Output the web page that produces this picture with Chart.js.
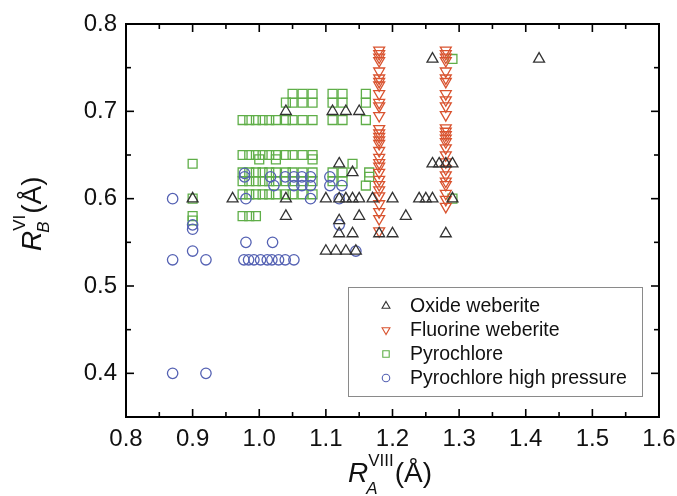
<!DOCTYPE html>
<html>
<head>
<meta charset="utf-8">
<script src="https://cdn.jsdelivr.net/npm/chart.js@4/dist/chart.umd.min.js"></script>
<style>
  body { margin: 0; background: #fff; }
  canvas { display: block; }
</style>
</head>
<body>
<canvas id="chart" width="677" height="496"></canvas>
<script>
// tick labels
const xTicks = [0.8, 0.9, 1.0, 1.1, 1.2, 1.3, 1.4, 1.5, 1.6];
const yTicks = [0.4, 0.5, 0.6, 0.7, 0.8];

const seriesNames = ["Oxide weberite", "Fluorine weberite", "Pyrochlore", "Pyrochlore high pressure"];

// [R_A, R_B] pairs
const oxideWeberite = [
  [1.42, 0.76], [1.26, 0.76],
  [1.04, 0.70], [1.11, 0.70], [1.13, 0.70], [1.15, 0.70],
  [1.12, 0.64], [1.14, 0.63], [1.26, 0.64], [1.27, 0.64], [1.28, 0.64], [1.29, 0.64],
  [0.90, 0.60], [0.96, 0.60], [1.04, 0.60], [1.10, 0.60], [1.12, 0.60], [1.13, 0.60],
  [1.14, 0.60], [1.15, 0.60], [1.17, 0.60], [1.20, 0.60], [1.24, 0.60], [1.25, 0.60],
  [1.26, 0.60], [1.29, 0.60],
  [1.04, 0.58], [1.12, 0.575], [1.15, 0.58], [1.22, 0.58],
  [1.12, 0.56], [1.14, 0.56], [1.18, 0.56], [1.20, 0.56], [1.28, 0.56],
  [1.10, 0.54], [1.115, 0.54], [1.13, 0.54], [1.145, 0.54]
];

const fluorineWeberite = [
  [1.18, 0.77], [1.18, 0.766], [1.18, 0.762], [1.18, 0.758], [1.18, 0.746], [1.18, 0.738],
  [1.18, 0.734], [1.18, 0.73], [1.18, 0.72], [1.18, 0.71], [1.18, 0.706], [1.18, 0.695],
  [1.18, 0.68], [1.18, 0.675], [1.18, 0.671], [1.18, 0.667], [1.18, 0.663], [1.18, 0.655],
  [1.18, 0.647], [1.18, 0.641], [1.18, 0.637], [1.18, 0.63], [1.18, 0.622], [1.18, 0.616],
  [1.18, 0.61], [1.18, 0.603], [1.18, 0.594], [1.18, 0.585], [1.18, 0.577], [1.18, 0.563],
  [1.28, 0.77], [1.28, 0.766], [1.28, 0.762], [1.28, 0.758], [1.28, 0.746], [1.28, 0.738],
  [1.28, 0.734], [1.28, 0.72], [1.28, 0.713], [1.28, 0.706], [1.28, 0.696], [1.28, 0.681],
  [1.28, 0.677], [1.28, 0.673], [1.28, 0.669], [1.28, 0.665], [1.28, 0.658], [1.28, 0.65],
  [1.28, 0.642], [1.28, 0.634], [1.28, 0.627], [1.28, 0.62], [1.28, 0.616], [1.28, 0.606],
  [1.28, 0.599], [1.28, 0.591]
];

const pyrochlore = [
  [1.29, 0.76],
  [1.05, 0.72], [1.065, 0.72], [1.08, 0.72], [1.11, 0.72], [1.125, 0.72], [1.16, 0.72],
  [1.04, 0.71], [1.05, 0.71], [1.065, 0.71], [1.08, 0.71], [1.11, 0.71], [1.125, 0.71], [1.16, 0.71],
  [0.975, 0.69], [0.985, 0.69], [0.995, 0.69], [1.005, 0.69], [1.015, 0.69], [1.025, 0.69],
  [1.04, 0.69], [1.05, 0.69], [1.065, 0.69], [1.08, 0.69], [1.11, 0.69], [1.125, 0.69], [1.16, 0.69],
  [0.975, 0.65], [0.985, 0.65], [0.995, 0.65], [1.005, 0.65], [1.015, 0.65], [1.025, 0.65],
  [1.04, 0.65], [1.05, 0.65], [1.065, 0.65], [1.08, 0.65],
  [1.00, 0.645], [1.025, 0.645], [1.08, 0.645],
  [0.90, 0.64], [1.14, 0.64],
  [0.975, 0.63], [0.985, 0.63], [0.995, 0.63], [1.005, 0.63], [1.015, 0.63], [1.025, 0.63],
  [1.04, 0.63], [1.05, 0.63], [1.065, 0.63], [1.08, 0.63], [1.11, 0.63], [1.125, 0.63], [1.165, 0.63],
  [0.975, 0.62], [0.985, 0.62], [0.995, 0.62], [1.005, 0.62], [1.015, 0.62], [1.025, 0.62],
  [1.04, 0.62], [1.05, 0.62], [1.065, 0.62], [1.08, 0.62], [1.11, 0.62], [1.125, 0.62], [1.165, 0.625],
  [1.16, 0.615],
  [0.975, 0.605], [0.985, 0.605], [0.995, 0.605], [1.005, 0.605], [1.015, 0.605], [1.025, 0.605],
  [1.04, 0.605], [1.05, 0.605], [1.065, 0.605], [1.08, 0.605],
  [0.90, 0.60], [1.29, 0.60],
  [0.90, 0.58], [0.975, 0.58], [0.985, 0.58], [0.995, 0.58], [0.90, 0.575]
];

const pyrochloreHP = [
  [0.87, 0.60], [0.87, 0.53], [0.87, 0.40], [0.92, 0.40], [0.92, 0.53],
  [0.90, 0.54], [0.90, 0.565], [0.90, 0.57],
  [0.98, 0.60], [0.98, 0.55], [1.02, 0.55],
  [0.977, 0.53], [0.984, 0.53], [0.992, 0.53], [1.002, 0.53], [1.012, 0.53],
  [1.019, 0.53], [1.029, 0.53], [1.039, 0.53], [1.052, 0.53],
  [0.978, 0.629], [0.978, 0.625], [1.017, 0.625], [1.022, 0.615], [1.039, 0.625],
  [1.052, 0.625], [1.064, 0.625], [1.077, 0.625], [1.052, 0.615], [1.064, 0.615],
  [1.077, 0.615], [1.077, 0.60], [1.106, 0.625], [1.106, 0.615], [1.124, 0.615],
  [1.12, 0.60], [1.12, 0.57], [1.145, 0.54]
];

const FONT = "'Liberation Sans', Arial, sans-serif";
const toPts = arr => arr.map(p => ({ x: p[0], y: p[1] }));

function series(label, pts, color, style, radius, rotation, order) {
  return {
    label: label,
    data: toPts(pts),
    borderColor: color,
    backgroundColor: "rgba(0,0,0,0)",
    pointStyle: style,
    pointRadius: radius,
    pointRotation: rotation,
    pointBorderWidth: 1.3,
    order: order
  };
}

// frame, inward ticks, axis titles and the in-plot legend
const decorations = {
  id: "decorations",
  afterDraw(chart) {
    const { ctx, chartArea: a, scales } = chart;
    const xs = scales.x, ys = scales.y;
    ctx.save();
    ctx.strokeStyle = "#000";
    ctx.lineWidth = 2;
    ctx.strokeRect(a.left, a.top, a.right - a.left, a.bottom - a.top);

    ctx.lineWidth = 1.6;
    const tick = (x1, y1, x2, y2) => { ctx.beginPath(); ctx.moveTo(x1, y1); ctx.lineTo(x2, y2); ctx.stroke(); };
    xTicks.forEach((v, i) => {
      const px = xs.getPixelForValue(v);
      tick(px, a.bottom, px, a.bottom - 8);
      tick(px, a.top, px, a.top + 8);
      if (i < xTicks.length - 1) {
        const m = xs.getPixelForValue((v + xTicks[i + 1]) / 2);
        tick(m, a.bottom, m, a.bottom - 5);
        tick(m, a.top, m, a.top + 5);
      }
    });
    yTicks.forEach((v, i) => {
      const py = ys.getPixelForValue(v);
      tick(a.left, py, a.left + 8, py);
      tick(a.right, py, a.right - 8, py);
      if (i < yTicks.length - 1) {
        const m = ys.getPixelForValue((v + yTicks[i + 1]) / 2);
        tick(a.left, m, a.left + 5, m);
        tick(a.right, m, a.right - 5, m);
      }
    });

    // axis titles: R with stacked sub/superscript, then (Å)
    const drawTitle = (sub, sup, subDrop) => {
      ctx.fillStyle = "#111";
      ctx.textBaseline = "alphabetic";
      ctx.textAlign = "left";
      ctx.font = "italic 28px " + FONT;
      ctx.fillText("R", 0, 0);
      let w = ctx.measureText("R").width;
      ctx.font = "17px " + FONT;
      const supW = ctx.measureText(sup).width;
      ctx.fillText(sup, w, -16);
      ctx.font = "italic 17px " + FONT;
      const subW = ctx.measureText(sub).width;
      ctx.fillText(sub, w - 2, subDrop);
      w += Math.max(supW, subW) + 1;
      ctx.font = "28px " + FONT;
      ctx.fillText("(Å)", w, 0);
    };
    ctx.save();
    ctx.translate(348, 482);
    drawTitle("A", "VIII", 12);
    ctx.restore();
    ctx.save();
    ctx.translate(41, 251);
    ctx.rotate(-Math.PI / 2);
    drawTitle("B", "VI", 8);
    ctx.restore();

    // legend box inside plot
    const lx = a.right - 311, ly = a.bottom - 130, lw = 294, lh = 109;
    ctx.fillStyle = "#fff";
    ctx.fillRect(lx, ly, lw, lh);
    ctx.strokeStyle = "#8a8a8a";
    ctx.lineWidth = 1;
    ctx.strokeRect(lx + 0.5, ly + 0.5, lw, lh);
    ctx.font = "19.5px " + FONT;
    ctx.textBaseline = "middle";
    chart.data.datasets.forEach((ds, i) => {
      const cy = ly + 19 + i * 24;
      ctx.strokeStyle = ds.borderColor;
      ctx.fillStyle = "rgba(0,0,0,0)";
      ctx.lineWidth = 1.1;
      Chart.helpers.drawPoint(ctx, {
        pointStyle: ds.pointStyle, radius: ds.pointRadius * 0.72,
        rotation: ds.pointRotation, borderWidth: 1.1
      }, lx + 38, cy);
      ctx.fillStyle = "#111";
      ctx.fillText(ds.label, lx + 62, cy + 1);
    });
    ctx.restore();
  }
};

new Chart(document.getElementById("chart"), {
  type: "scatter",
  data: {
    datasets: [
      series(seriesNames[0], oxideWeberite, "#333333", "triangle", 6.3, 0, 0),
      series(seriesNames[1], fluorineWeberite, "#d9532f", "triangle", 6.3, 180, 1),
      series(seriesNames[2], pyrochlore, "#5fae48", "rect", 6.3, 0, 3),
      series(seriesNames[3], pyrochloreHP, "#5461b3", "circle", 5.2, 0, 2)
    ]
  },
  options: {
    responsive: false,
    animation: false,
    layout: { padding: { top: 24, right: 18, left: 0, bottom: 0 } },
    plugins: { legend: { display: false }, tooltip: { enabled: false } },
    scales: {
      x: {
        min: 0.8, max: 1.6,
        afterBuildTicks: s => { s.ticks = xTicks.map(v => ({ value: v })); },
        afterFit: s => { s.height = 79; s.paddingLeft = 0; s.paddingRight = 0; },
        grid: { display: false, drawTicks: false },
        border: { display: false },
        ticks: {
          callback: v => v.toFixed(1),
          font: { family: FONT, size: 24 }, color: "#111",
          padding: 8, maxRotation: 0, autoSkip: false
        }
      },
      y: {
        min: 0.35, max: 0.8,
        afterBuildTicks: s => { s.ticks = yTicks.map(v => ({ value: v })); },
        afterFit: s => { s.width = 126; s.paddingTop = 0; s.paddingBottom = 0; },
        grid: { display: false, drawTicks: false },
        border: { display: false },
        ticks: {
          callback: v => v.toFixed(1),
          font: { family: FONT, size: 24 }, color: "#111",
          padding: 9, autoSkip: false
        }
      }
    }
  },
  plugins: [decorations]
});
</script>
</body>
</html>
